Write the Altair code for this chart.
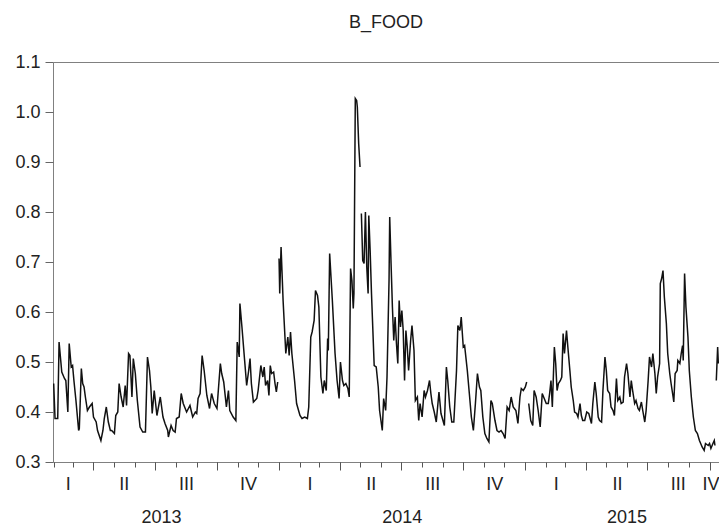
import altair as alt
import pandas as pd

# Observation dates, as days since 2013-01-01 (None in b_food marks a missing value / break)
obs_day = [
    31, 33, 37, 39, 43, 47, 49, 52, 54, 57, 59, 61, 64, 68, 69, 72, 74, 76, 78, 81, 84, 88,
    90, 94, 96, 101, 104, 106, 109, 112, 115, 117, 121, 123, 126, 128, 131, 134, 137, 139,
    142, 144, 147, 149, 152, 155, 159, 163, 167, 170, 173, 175, 177, 180, 184, 189, 193, 196,
    200, 201, 205, 208, 211, 213, 217, 220, 223, 228, 233, 237, 241, 243, 245, 248, 251, 254,
    258, 262, 265, 269, 273, 278, 280, 283, 287, 290, 292, 297, 301, 303, 306, 307, 310, 314,
    317, 320, 322, 324, 327, 332, 334, 338, 341, 343, 345, 348, 350, 352, 354, 357, 359, 361,
    363, 364,
    365, 366, 368, 371, 375, 378, 380, 382, 384, 388, 391, 396, 399, 403, 407, 409, 412, 414,
    417, 419, 422, 424, 427, 430, 432, 435, 437, 438, 440, 444, 448, 451, 454, 456, 459, 461,
    464, 467, 469, 471, 473, 475, 476, 478, 480, 481, 483, 485, 486,
    487, 489, 491, 493, 495, 497, 498, 500, 502, 506, 509, 512, 514, 518, 520, 523, 525, 528,
    529, 531, 533, 535, 537, 539, 541, 543, 545, 547, 549, 551, 553, 555, 557, 560, 562, 565,
    567, 570, 572, 574, 577, 580, 582, 585, 588, 590, 592, 595, 598, 602, 605, 610, 613, 615,
    618, 621, 624, 628, 630, 633, 635, 638, 640, 644, 647, 650, 653, 656, 659, 662, 664, 667,
    670, 673, 676, 679, 681, 685, 688, 691, 694, 697, 700, 703, 706, 709, 712, 716, 719, 722,
    724, 727, 730, 732, 733,
    735, 738, 741, 743, 746, 749, 752, 755, 758, 761, 764, 766, 768, 770, 773, 775, 777, 779,
    782, 784, 786, 788, 791, 793, 796, 798, 801, 803, 806, 808, 811, 813, 815, 818, 821, 824,
    828, 830, 833, 835, 838, 840, 843, 845, 848, 850, 852, 855, 857, 860, 862, 865, 867, 870,
    872, 875, 877, 880, 882, 885, 887, 889, 892, 894, 897, 899, 902, 904, 907, 909, 912, 914,
    917, 919, 922, 924, 926, 929, 930, 932, 934, 936, 939, 941, 944, 946, 949, 950, 952, 955,
    956, 959, 961, 963, 964, 966, 968, 971, 973, 976, 979, 982, 985, 988, 992, 995, 997, 1001,
    1003, 1005, 1008, 1010, 1011, 1012,
    1013, 1015, 1016,
]

b_food = [
    0.457, 0.387, 0.387, 0.540, 0.480, 0.467, 0.463, 0.400, 0.537, 0.490, 0.493, 0.463, 0.423,
    0.363, 0.367, 0.487, 0.457, 0.450, 0.430, 0.403, 0.410, 0.417,
    0.390, 0.380, 0.363, 0.343, 0.363, 0.387, 0.410, 0.380, 0.363, 0.363, 0.357, 0.393, 0.400,
    0.457, 0.430, 0.410, 0.453, 0.413,
    0.517, 0.513, 0.430, 0.507, 0.477, 0.423, 0.370, 0.360, 0.360, 0.510, 0.483, 0.450, 0.397,
    0.443, 0.393, 0.430, 0.390, 0.377,
    0.363, 0.350, 0.373, 0.363, 0.360, 0.387, 0.390, 0.437, 0.417, 0.400, 0.413, 0.390, 0.400,
    0.397, 0.427, 0.437, 0.513, 0.483,
    0.433, 0.407, 0.437, 0.417, 0.407, 0.497, 0.477, 0.460, 0.410, 0.443, 0.403, 0.390, 0.383,
    0.540, 0.510, 0.617, 0.570, 0.503,
    0.453, 0.483, 0.507, 0.457, 0.420, 0.427, 0.443, 0.493, 0.470, 0.490, 0.453, 0.463, 0.433,
    0.493, 0.477, 0.480, 0.457, 0.440,
    0.460, None,
    0.707, 0.637, 0.730, 0.623, 0.517, 0.550, 0.513, 0.560, 0.517, 0.463, 0.417, 0.393, 0.387,
    0.390, 0.387, 0.410, 0.550, 0.560,
    0.583, 0.643, 0.633, 0.610, 0.470, 0.437, 0.463, 0.443, 0.547, 0.523, 0.717, 0.623, 0.517,
    0.463, 0.427, 0.500, 0.463, 0.453,
    0.457, 0.447, 0.430, 0.687, 0.663, 0.607, 0.637, 1.027, 1.023, 1.010, 0.937, 0.890, None,
    0.797, 0.703, 0.697, 0.800, 0.690, 0.637, 0.793, 0.723, 0.637, 0.493, 0.490, 0.450, 0.403,
    0.363, 0.427, 0.403, 0.470, 0.663,
    0.790, 0.697, 0.610, 0.543, 0.590, 0.537, 0.497, 0.623, 0.570, 0.603, 0.563, 0.463, 0.563,
    0.530, 0.483, 0.543, 0.573, 0.523,
    0.423, 0.430, 0.383, 0.417, 0.390, 0.443, 0.430, 0.443, 0.463, 0.437, 0.417, 0.400, 0.380,
    0.440, 0.397, 0.373, 0.490, 0.463,
    0.410, 0.380, 0.380, 0.483, 0.573, 0.563, 0.590, 0.530, 0.533, 0.483, 0.437, 0.390, 0.363,
    0.417, 0.477, 0.450, 0.443, 0.390,
    0.357, 0.347, 0.340, 0.423, 0.417, 0.383, 0.363, 0.360, 0.363, 0.357, 0.347, 0.410, 0.403,
    0.430, 0.410, 0.403, 0.377, 0.430,
    0.447, 0.443, 0.450, 0.460, None,
    0.417, 0.383, 0.373, 0.443, 0.430, 0.403, 0.370, 0.437, 0.427, 0.417, 0.417, 0.437, 0.463,
    0.410, 0.530, 0.497, 0.443, 0.457,
    0.463, 0.470, 0.557, 0.517, 0.563, 0.530, 0.483, 0.450, 0.423, 0.400, 0.397, 0.390, 0.417,
    0.393, 0.383, 0.383, 0.400, 0.397,
    0.377, 0.417, 0.460, 0.437, 0.390, 0.383, 0.380, 0.443, 0.510, 0.483, 0.443, 0.437, 0.410,
    0.403, 0.393, 0.467, 0.423, 0.430,
    0.417, 0.420, 0.470, 0.497, 0.477, 0.430, 0.463, 0.443, 0.417, 0.423, 0.407, 0.403, 0.420,
    0.403, 0.380, 0.403, 0.463, 0.510,
    0.490, 0.517, 0.477, 0.437, 0.470, 0.497, 0.657, 0.667, 0.683, 0.630, 0.577, 0.517, 0.477,
    0.457, 0.430, 0.420, 0.477, 0.483,
    0.503, 0.497, 0.517, 0.533, 0.503, 0.677, 0.610, 0.550, 0.483, 0.430, 0.390, 0.363, 0.357,
    0.343, 0.330, 0.323, 0.337, 0.333,
    0.337, 0.327, 0.337, 0.343, 0.333, None,
    0.463, 0.530, 0.497,
]

# Axis tick/label positions
month_ticks = [(y, m) for y in (2013, 2014, 2015) for m in range(1, 13)
               if (2013, 2) <= (y, m) <= (2015, 10)]
quarter_starts = [(y, m) for (y, m) in month_ticks if m in (1, 4, 7, 10)]
quarter_label_dates = ["2013-02-22", "2013-05-16", "2013-08-16", "2013-11-16",
                       "2014-02-15", "2014-05-17", "2014-08-16", "2014-11-16",
                       "2015-02-15", "2015-05-17", "2015-08-15", "2015-10-15"]
year_label_dates = ["2013-07-10", "2014-07-02", "2015-05-31"]
y_ticks = [0.3, 0.4, 0.5, 0.6, 0.7, 0.8, 0.9, 1.0, 1.1]


def dt(s):
    y, m, d = (int(p) for p in s.split("-"))
    return alt.DateTime(year=y, month=m, date=d)


df = pd.DataFrame({"day": obs_day, "B_FOOD": b_food})
df["date"] = pd.Timestamp("2013-01-01") + pd.to_timedelta(df["day"], unit="D")
df["segment"] = df["B_FOOD"].isna().cumsum()
df = df.dropna()

FONT = "Liberation Sans"
x_scale = alt.Scale(domain=[dt("2013-01-31"), dt("2015-10-15")], nice=False)

line = alt.Chart(df).mark_line(color="#111111", strokeWidth=1.5, clip=True).encode(
    x=alt.X("date:T", scale=x_scale, title=None,
            axis=alt.Axis(orient="bottom", values=[alt.DateTime(year=y, month=m, date=1) for y, m in month_ticks],
                          labels=False, tickSize=5, tickColor="#555555", domain=False, grid=False)),
    y=alt.Y("B_FOOD:Q", scale=alt.Scale(domain=[0.3, 1.1], nice=False, zero=False), title=None,
            axis=alt.Axis(values=y_ticks, format=".1f", tickSize=8, tickColor="#666666",
                          labelPadding=5, labelFontSize=18, labelFont=FONT, labelColor="#222222",
                          domain=False, grid=False)),
    detail="segment:N",
)

qdf = pd.DataFrame({"d": pd.to_datetime(quarter_label_dates)})
ydf = pd.DataFrame({"d": pd.to_datetime(year_label_dates)})

qticks = alt.Chart(qdf).mark_point(opacity=0).encode(
    x=alt.X("d:T", scale=x_scale, title=None,
            axis=alt.Axis(orient="bottom", values=[alt.DateTime(year=y, month=m, date=1) for y, m in quarter_starts],
                          labels=False, tickSize=8, tickColor="#555555", domain=False, grid=False))
)

qlabels = alt.Chart(qdf).mark_point(opacity=0).encode(
    x=alt.X("d:T", scale=x_scale, title=None,
            axis=alt.Axis(orient="bottom", values=[dt(s) for s in quarter_label_dates],
                          labelExpr="['I','I','I','II','II','II','III','III','III','IV','IV','IV'][month(datum.value)]",
                          ticks=False, domain=False, grid=False, labelPadding=13, labelFlush=3,
                          labelOverlap=False, labelFontSize=18, labelFont=FONT, labelColor="#222222"))
)

ylabels = alt.Chart(ydf).mark_point(opacity=0).encode(
    x=alt.X("d:T", scale=x_scale, title=None,
            axis=alt.Axis(orient="bottom", values=[dt(s) for s in year_label_dates], format="%Y",
                          ticks=False, domain=False, grid=False, labelPadding=46,
                          labelOverlap=False, labelFontSize=18, labelFont=FONT, labelColor="#222222"))
)

chart = alt.layer(line, qticks, qlabels, ylabels).resolve_scale(x="shared").resolve_axis(x="independent").properties(
    width=666,
    height=400,
    title=alt.TitleParams("B_FOOD", fontSize=18, font=FONT, fontWeight="normal", color="#222222",
                          anchor="middle", frame="group", offset=21),
    autosize=alt.AutoSizeParams(type="none"),
    padding={"left": 45, "top": 54, "right": 0, "bottom": 64},
    background="white",
).configure_view(stroke="#808080", strokeWidth=1)

chart.save("out.html", embed_options={"renderer": "svg", "actions": False})
